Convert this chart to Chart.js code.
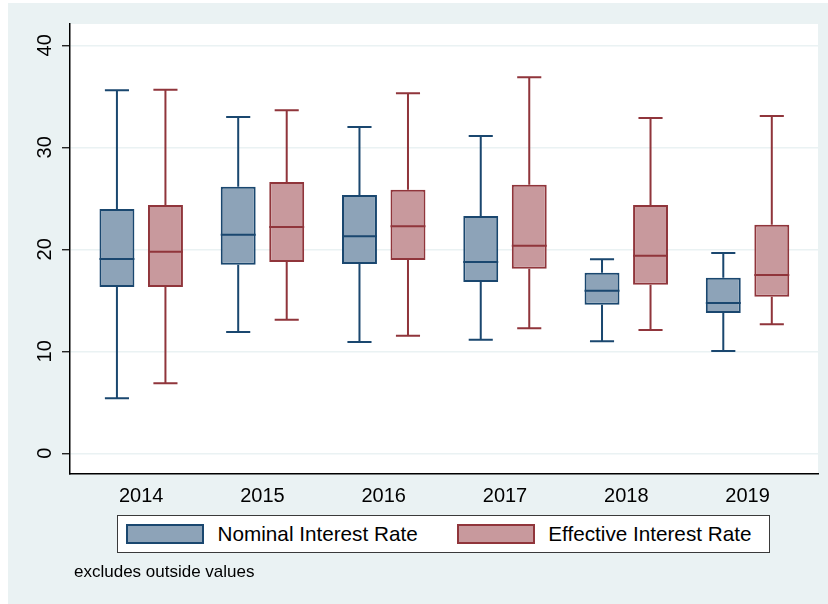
<!DOCTYPE html>
<html>
<head>
<meta charset="utf-8">
<title>Nominal and Effective Interest Rate, 2014–2019</title>
<script src="https://cdn.jsdelivr.net/npm/chart.js@4"></script>
<style>
  html, body { margin: 0; padding: 0; background: #fff; }
  #wrap { position: relative; width: 828px; height: 604px; overflow: hidden; background: #fff; }
  #region { position: absolute; left: 8px; top: 3px; right: 0; bottom: 0; background: #EAF2F3; }
  #cv { position: absolute; left: 0; top: 0; }
  #legend {
    position: absolute; left: 117px; top: 515px; width: 651px; height: 36px;
    background: #fff; border: 1.5px solid #3a3a3a;
    display: flex; align-items: center;
    font: 20.7px 'Liberation Sans', Arial, sans-serif; color: #000; white-space: nowrap;
  }
  #legend .item { display: flex; align-items: center; }
  #legend .item:first-child { margin-left: 8px; }
  #legend .item + .item { margin-left: 39px; }
  #legend .swatch { box-sizing: border-box; width: 78px; height: 20px; margin-right: 13.6px; }
  #note {
    position: absolute; left: 74px; top: 562px;
    font: 17px/20px 'Liberation Sans', Arial, sans-serif; color: #000;
  }
</style>
</head>
<body>
<div id="wrap">
  <div id="region"></div>
  <canvas id="cv" width="828" height="604"></canvas>
  <div id="legend"></div>
  <div id="note">excludes outside values</div>
</div>
<script>
// Survey years on the horizontal axis
const years = ['2014', '2015', '2016', '2017', '2018', '2019'];
const yTicks = [0, 10, 20, 30, 40];

// Nominal interest rate: adjacent values, quartiles and median per year
const nominalLow    = [5.39, 11.89, 10.91, 11.14, 10.98, 10.03];
const nominalQ1     = [16.30, 18.49, 18.56, 16.79, 14.57, 13.75];
const nominalMedian = [19.05, 21.43, 21.27, 18.75, 15.94, 14.74];
const nominalQ3     = [23.95, 26.14, 25.32, 23.26, 17.71, 17.22];
const nominalHigh   = [35.59, 32.97, 31.99, 31.11, 19.02, 19.64];

// Effective interest rate: adjacent values, quartiles and median per year
const effectiveLow    = [6.86, 13.10, 11.53, 12.25, 12.09, 12.65];
const effectiveQ1     = [16.30, 18.75, 18.95, 18.10, 16.53, 15.35];
const effectiveMedian = [19.77, 22.19, 22.25, 20.35, 19.37, 17.48];
const effectiveQ3     = [24.34, 26.60, 25.84, 26.33, 24.34, 22.41];
const effectiveHigh   = [35.65, 33.63, 35.29, 36.86, 32.87, 33.07];

const FONT = "'Liberation Sans', Arial, sans-serif";

// Interquartile box as a floating bar at each year index
function boxes(q1, q3) {
  return q1.map((v, i) => ({ x: i, y: [v, q3[i]] }));
}

// Fills the plot region white behind the marks
const plotBackground = {
  id: 'plotBackground',
  beforeDraw(chart) {
    const { ctx, chartArea: a } = chart;
    ctx.save();
    ctx.fillStyle = '#ffffff';
    ctx.fillRect(a.left, a.top, a.right - a.left, a.bottom - a.top);
    ctx.restore();
  }
};

// Whiskers, caps and median lines drawn on top of each box
const boxWhiskers = {
  id: 'boxWhiskers',
  afterDatasetsDraw(chart) {
    const { ctx } = chart;
    const yScale = chart.scales.y;
    chart.data.datasets.forEach((ds, di) => {
      const meta = chart.getDatasetMeta(di);
      meta.data.forEach((bar, i) => {
        const { x, width } = bar.getProps(['x', 'width'], true);
        const half = width / 2;
        const cap = width * 0.345;
        const yLo = yScale.getPixelForValue(ds.stats.low[i]);
        const yHi = yScale.getPixelForValue(ds.stats.high[i]);
        const yQ1 = yScale.getPixelForValue(ds.data[i].y[0]);
        const yQ3 = yScale.getPixelForValue(ds.data[i].y[1]);
        const yMed = yScale.getPixelForValue(ds.stats.median[i]);
        ctx.save();
        ctx.strokeStyle = ds.borderColor;
        ctx.lineWidth = 2;
        ctx.beginPath();
        ctx.moveTo(x, yQ3); ctx.lineTo(x, yHi);
        ctx.moveTo(x - cap, yHi); ctx.lineTo(x + cap, yHi);
        ctx.moveTo(x, yQ1); ctx.lineTo(x, yLo);
        ctx.moveTo(x - cap, yLo); ctx.lineTo(x + cap, yLo);
        ctx.moveTo(x - half, yMed); ctx.lineTo(x + half, yMed);
        ctx.stroke();
        ctx.restore();
      });
    });
  }
};

// Legend rendered as HTML from the chart's own legend items
const htmlLegend = {
  id: 'htmlLegend',
  afterUpdate(chart) {
    const box = document.getElementById('legend');
    box.innerHTML = '';
    const items = chart.options.plugins.legend.labels.generateLabels(chart);
    items.forEach(item => {
      const el = document.createElement('div');
      el.className = 'item';
      const sw = document.createElement('span');
      sw.className = 'swatch';
      sw.style.background = item.fillStyle;
      sw.style.border = item.lineWidth + 'px solid ' + item.strokeStyle;
      const tx = document.createElement('span');
      tx.textContent = item.text;
      el.appendChild(sw);
      el.appendChild(tx);
      box.appendChild(el);
    });
  }
};

new Chart(document.getElementById('cv'), {
  type: 'bar',
  data: {
    datasets: [
      {
        label: 'Nominal Interest Rate',
        data: boxes(nominalQ1, nominalQ3),
        stats: { low: nominalLow, median: nominalMedian, high: nominalHigh },
        backgroundColor: '#8DA3B8',
        borderColor: '#1A476F',
        borderWidth: 2,
        borderSkipped: false,
        categoryPercentage: 0.8,
        barPercentage: 0.72
      },
      {
        label: 'Effective Interest Rate',
        data: boxes(effectiveQ1, effectiveQ3),
        stats: { low: effectiveLow, median: effectiveMedian, high: effectiveHigh },
        backgroundColor: '#C8999D',
        borderColor: '#90353B',
        borderWidth: 2,
        borderSkipped: false,
        categoryPercentage: 0.8,
        barPercentage: 0.72
      }
    ]
  },
  options: {
    responsive: false,
    animation: false,
    devicePixelRatio: 1,
    layout: { padding: { left: 0, top: 24, right: 10, bottom: 100 } },
    plugins: {
      legend: { display: false },
      tooltip: { enabled: false },
      title: { display: false }
    },
    scales: {
      x: {
        type: 'linear',
        min: -0.587,
        max: 5.581,
        offset: false,
        afterBuildTicks(scale) { scale.ticks = years.map((_, i) => ({ value: i })); },
        afterFit(scale) { scale.height = 30; },
        grid: { display: false, drawTicks: false },
        border: { display: true, color: '#000', width: 1.5 },
        ticks: {
          autoSkip: false, maxRotation: 0, minRotation: 0, padding: 10,
          color: '#000', font: { family: FONT, size: 20 },
          callback(value, index) { return years[index]; }
        }
      },
      y: {
        min: -2.03,
        max: 42.09,
        afterBuildTicks(scale) { scale.ticks = yTicks.map(v => ({ value: v })); },
        afterFit(scale) { scale.width = 70; },
        grid: { color: '#EAF2F3', lineWidth: 1.5, tickColor: '#000', tickLength: 8, tickWidth: 1.2 },
        border: { display: true, color: '#000', width: 1.5 },
        ticks: {
          minRotation: 90, maxRotation: 90, crossAlign: 'center', padding: 5,
          color: '#000', font: { family: FONT, size: 20 }
        }
      }
    }
  },
  plugins: [plotBackground, boxWhiskers, htmlLegend]
});
</script>
</body>
</html>
